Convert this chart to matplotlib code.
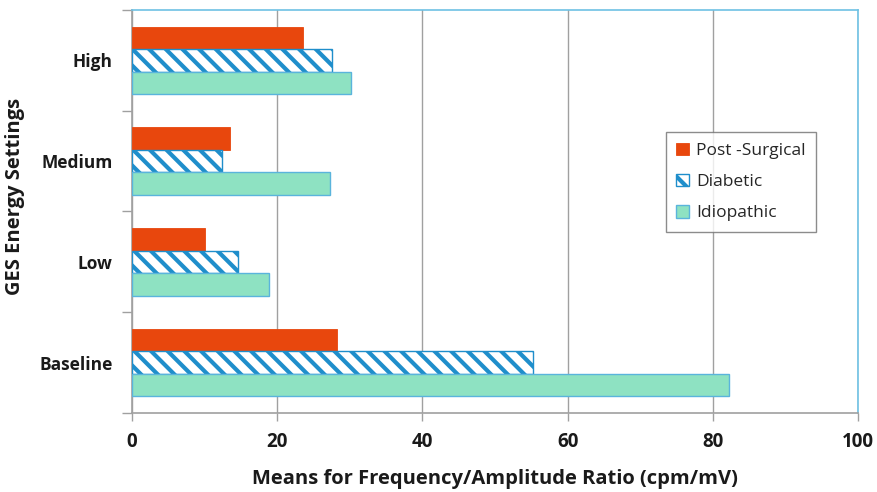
import matplotlib
matplotlib.use("Agg")
import matplotlib.pyplot as plt
import numpy as np
from matplotlib.ticker import FixedLocator

categories = ["Baseline", "Low", "Medium", "High"]
series_names = ["Post -Surgical", "Diabetic", "Idiopathic"]
post_surgical = [28.2, 10.1, 13.5, 23.5]
diabetic = [55.2, 14.6, 12.4, 27.6]
idiopathic = [82.2, 18.9, 27.3, 30.2]
x_ticks = [0, 20, 40, 60, 80, 100]

plt.rcParams["font.family"] = ["Open Sans", "DejaVu Sans"]
plt.rcParams["hatch.linewidth"] = 3.0

fig = plt.figure(figsize=(8.78, 4.92), dpi=100)
ax = fig.add_axes([0.1503, 0.1606, 0.8269, 0.8191])

y = np.arange(len(categories))
h = 0.223
orange = "#E8470D"
blue = "#1F8ECB"
green = "#8EE2C2"
green_edge = "#5AB4DC"

ax.barh(y + h, post_surgical, height=h, color=orange, edgecolor=orange, lw=0.6,
        label=series_names[0], zorder=3)
ax.barh(y, diabetic, height=h, facecolor="white", edgecolor=blue, hatch="\\\\",
        lw=1.0, label=series_names[1], zorder=3)
ax.barh(y - h, idiopathic, height=h, color=green, edgecolor=green_edge, lw=1.0,
        label=series_names[2], zorder=3)

ax.set_xlim(0, 100)
ax.set_ylim(-0.5, len(categories) - 0.5)
ax.set_xticks(x_ticks)
ax.set_xticklabels([str(v) for v in x_ticks], fontsize=13.5, fontweight="bold",
                   color="#1a1a1a")
ax.set_yticks(y)
ax.set_yticklabels(categories, fontsize=12.5, fontweight="bold", color="#1a1a1a")
ax.yaxis.set_minor_locator(FixedLocator(np.arange(-0.5, len(categories), 1.0)))
ax.tick_params(axis="y", which="major", length=0, pad=14)
ax.tick_params(axis="y", which="minor", length=7, color="#A0A0A0", width=1)
ax.tick_params(axis="x", which="major", length=6, color="#A0A0A0", width=1, pad=8)

ax.grid(axis="x", color="#A0A0A0", lw=1, zorder=0)
for s in ["left", "bottom"]:
    ax.spines[s].set_color("#A0A0A0")
    ax.spines[s].set_linewidth(1.2)
for s in ["top", "right"]:
    ax.spines[s].set_color("#6EC1E4")
    ax.spines[s].set_linewidth(1.2)

ax.set_xlabel("Means for Frequency/Amplitude Ratio (cpm/mV)", fontsize=14.5,
              fontweight="bold", labelpad=12, color="#1a1a1a")
ax.set_ylabel("GES Energy Settings", fontsize=14.5, fontweight="bold",
              color="#1a1a1a")
ax.yaxis.set_label_coords(-0.147, 0.538)

leg = ax.legend(loc="upper left", bbox_to_anchor=(0.7355, 0.697), fontsize=12.5,
                frameon=True, fancybox=False, edgecolor="#707070",
                handlelength=0.75, handleheight=0.75, handletextpad=0.4,
                labelspacing=0.85, borderpad=0.6, borderaxespad=0)
leg.get_frame().set_linewidth(1.0)
for t in leg.get_texts():
    t.set_color("#262626")

fig.savefig("out.png", dpi=100)
